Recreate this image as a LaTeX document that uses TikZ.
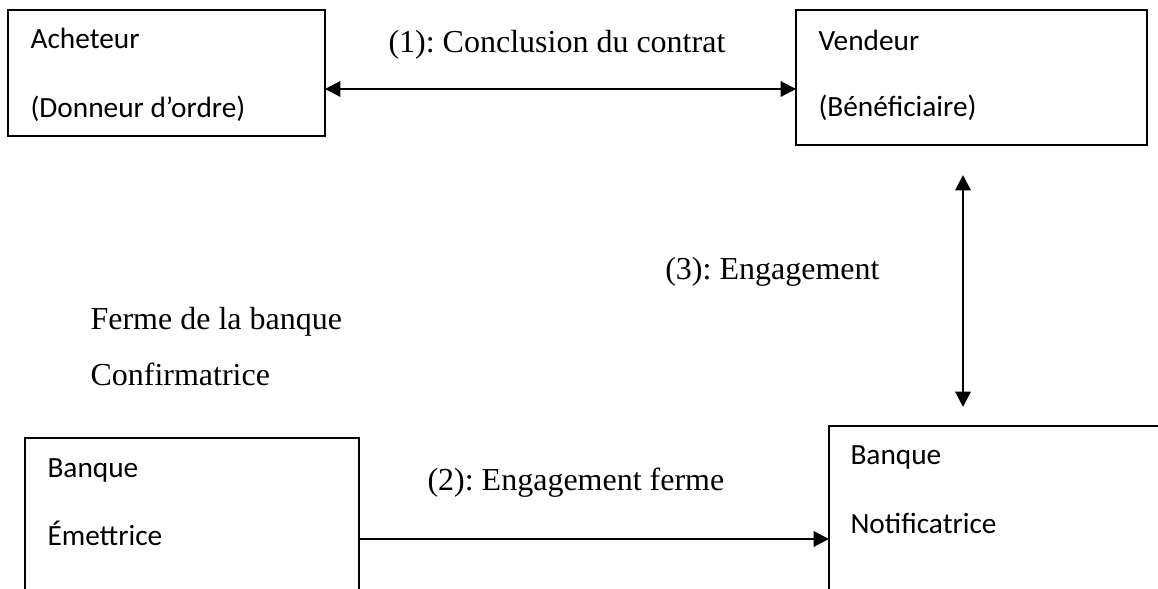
\documentclass[tikz,border=0pt]{standalone}
\usepackage{fontspec}
\setmainfont{Liberation Serif}
\newfontfamily\boxfont{Carlito}
\usetikzlibrary{arrows.meta}
\frenchspacing
\begin{document}
\begin{tikzpicture}[x=0.375pt,y=-0.375pt,
  frame/.style={draw,line width=0.8pt,inner sep=0pt,outer sep=0pt},
  boxtext/.style={anchor=base west,inner sep=0pt,font=\boxfont\fontsize{11}{13}\selectfont},
  lbl/.style={anchor=base west,inner sep=0pt,font=\fontsize{12}{14}\selectfont},
  link/.style={line width=0.8pt,-{Triangle[length=5.8pt,width=5.8pt]}},
  duplex/.style={line width=0.8pt,{Triangle[length=5.8pt,width=5.8pt]}-{Triangle[length=5.8pt,width=5.8pt]}}]
\useasboundingbox (0,0) rectangle (1158,588);
\clip (0,0) rectangle (1158,588);

% parties
\node[frame,minimum width=317*0.375pt,minimum height=126*0.375pt,anchor=north west] (ach) at (8,10) {};
\node[frame,minimum width=351*0.375pt,minimum height=135*0.375pt,anchor=north west] (vend) at (796,10) {};
\node[frame,minimum width=334*0.375pt,minimum height=180*0.375pt,anchor=north west] (emet) at (25,438) {};
\node[frame,minimum width=360*0.375pt,minimum height=190*0.375pt,anchor=north west] (notif) at (829,426) {};

% box captions
\node[boxtext] (t1) at (30,48) {Acheteur};
\node[boxtext] (t2) at (30,117) {(Donneur d’ordre)};
\node[boxtext] (t3) at (818,50) {Vendeur};
\node[boxtext] (t4) at (818,116) {(Bénéficiaire)};
\node[boxtext] (t5) at (47,477) {Banque};
\node[boxtext] (t6) at (47,545) {Émettrice};
\node[boxtext] (t7) at (850,464) {Banque};
\node[boxtext] (t8) at (850,533) {Notificatrice};

% flow labels
\node[lbl] (l1) at (388,52) {(1): Conclusion du contrat};
\node[lbl,anchor=base east] (l3) at (880,279) {(3): Engagement};
\node[lbl] (l4) at (90,329) {Ferme de la banque};
\node[lbl] (l5) at (90,385) {Confirmatrice};
\node[lbl] (l2) at (427,490) {(2): Engagement ferme};

% connectors
\draw[duplex] (ach.east |- 0,89) -- (vend.west |- 0,89);
\coordinate (up) at (963,175);
\coordinate (down) at (963,407);
\draw[duplex] (up) -- (down);
\draw[link] (emet.east |- 0,539) -- (notif.west |- 0,539);
\end{tikzpicture}
\end{document}
